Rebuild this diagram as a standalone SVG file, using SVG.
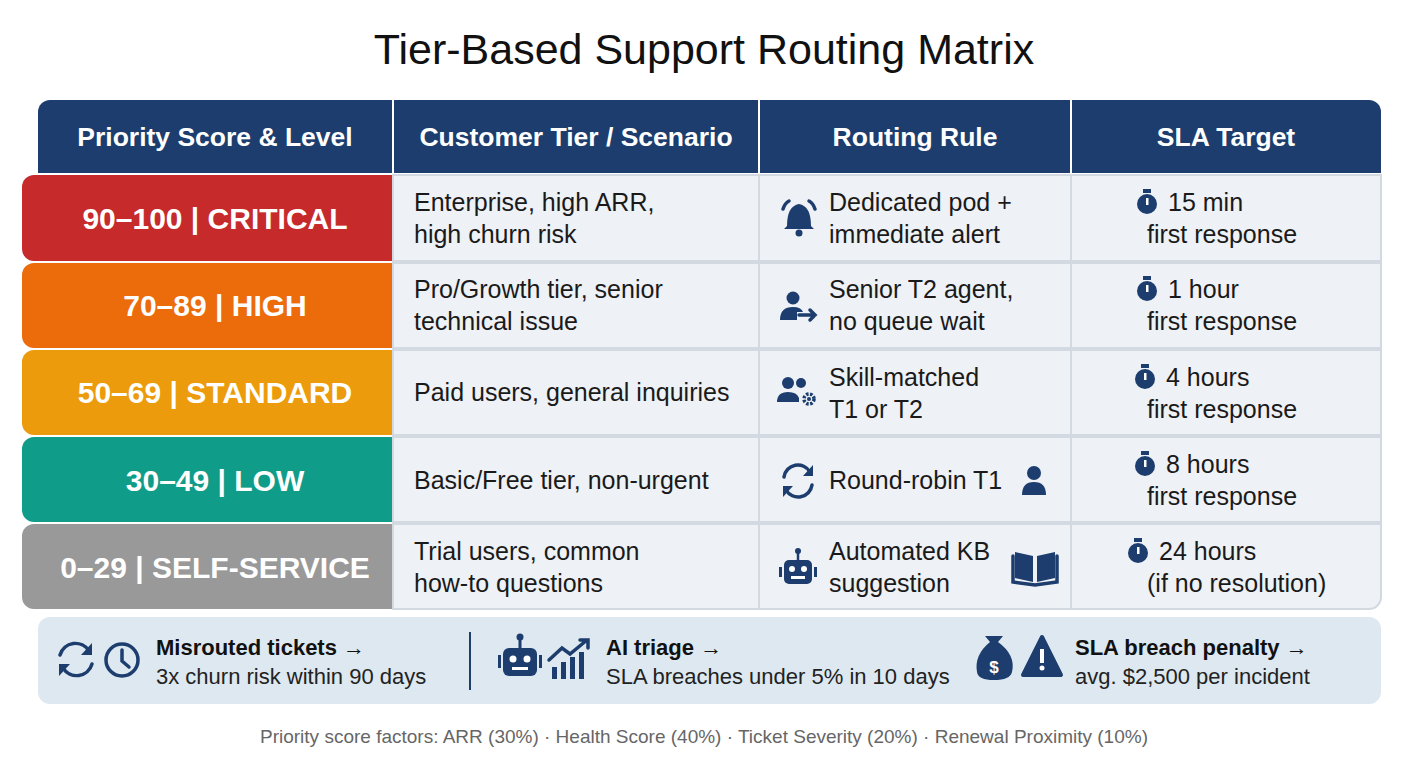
<svg xmlns="http://www.w3.org/2000/svg" width="1408" height="768" viewBox="0 0 1408 768">
<style>
text{font-family:"Liberation Sans","DejaVu Sans",sans-serif}
.h{font-size:26.5px;font-weight:bold;fill:#fff;text-anchor:middle}
.lv{font-size:30px;font-weight:bold;fill:#fff;text-anchor:middle}
.b{font-size:25px;fill:#1a1a1a}
.cell{fill:#eef1f5;stroke:#d3d9e0;stroke-width:2}
.ic{fill:#1c3d6e}
.ics{fill:none;stroke:#1c3d6e;stroke-width:3.5;stroke-linecap:round}
.fb{font-size:22px;font-weight:bold;fill:#111}
.fn{font-size:22px;fill:#222}
</style>
<rect width="1408" height="768" fill="#fff"/>
<text x="704" y="64" text-anchor="middle" style="font-size:43px;fill:#111">Tier-Based Support Routing Matrix</text>
<g id="header">
<path d="M50 100H1369A12 12 0 0 1 1381 112V173H38V112A12 12 0 0 1 50 100Z" fill="#1c3d6e"/>
<g stroke="#fff" stroke-width="2"><line x1="393" y1="100" x2="393" y2="173"/><line x1="759" y1="100" x2="759" y2="173"/><line x1="1071" y1="100" x2="1071" y2="173"/></g>
<text class="h" x="215" y="146">Priority Score &amp; Level</text>
<text class="h" x="576" y="146">Customer Tier / Scenario</text>
<text class="h" x="915" y="146">Routing Rule</text>
<text class="h" x="1226" y="146">SLA Target</text>
</g>
<path d="M393 174H1381V598A12 12 0 0 1 1369 610H393Z" fill="#eef1f5"/>
<g id="row1">
<path d="M34 175H393V261H34A12 12 0 0 1 22 249V187A12 12 0 0 1 34 175Z" fill="#c62a2a"/>
<text class="lv" x="215" y="229">90–100 | CRITICAL</text>
<rect class="cell" x="393" y="175" width="366" height="86"/><rect class="cell" x="759" y="175" width="312" height="86"/><rect class="cell" x="1071" y="175" width="310" height="86"/>
<text class="b" x="414" y="211">Enterprise, high ARR,</text><text class="b" x="414" y="243">high churn risk</text>
<path class="ic" d="M787 226Q787 206 799 204Q811 206 811 226L814 229H784Z"/><circle class="ic" cx="799" cy="233" r="3.5"/><path class="ics" d="M783 209Q785 203 789 201M815 209Q813 203 809 201" stroke-width="2.5"/>
<text class="b" x="829" y="211">Dedicated pod +</text><text class="b" x="829" y="243">immediate alert</text>
<circle class="ic" cx="1147" cy="204" r="10"/><rect class="ic" x="1143" y="189" width="8" height="4"/><rect x="1146" y="198" width="2.5" height="7" fill="#fff"/>
<text class="b" x="1168" y="211">15 min</text><text class="b" x="1147" y="243">first response</text>
</g>
<g id="row2">
<path d="M34 263H393V348H34A12 12 0 0 1 22 336V275A12 12 0 0 1 34 263Z" fill="#ec6b0b"/>
<text class="lv" x="215" y="316">70–89 | HIGH</text>
<rect class="cell" x="393" y="263" width="366" height="85"/><rect class="cell" x="759" y="263" width="312" height="85"/><rect class="cell" x="1071" y="263" width="310" height="85"/>
<text class="b" x="414" y="298">Pro/Growth tier, senior</text><text class="b" x="414" y="330">technical issue</text>
<circle class="ic" cx="793" cy="298" r="6.5"/><path class="ic" d="M780 320Q780 307 793 307Q801 307 803 312H797V320Z"/><path class="ics" d="M799 315H815M810 310L815 315L810 320" stroke-width="3"/>
<text class="b" x="829" y="298">Senior T2 agent,</text><text class="b" x="829" y="330">no queue wait</text>
<circle class="ic" cx="1147" cy="291" r="10"/><rect class="ic" x="1143" y="276" width="8" height="4"/><rect x="1146" y="285" width="2.5" height="7" fill="#fff"/>
<text class="b" x="1168" y="298">1 hour</text><text class="b" x="1147" y="330">first response</text>
</g>
<g id="row3">
<path d="M34 350H393V435H34A12 12 0 0 1 22 423V362A12 12 0 0 1 34 350Z" fill="#eb9b0b"/>
<text class="lv" x="215" y="403">50–69 | STANDARD</text>
<rect class="cell" x="393" y="350" width="366" height="85"/><rect class="cell" x="759" y="350" width="312" height="85"/><rect class="cell" x="1071" y="350" width="310" height="85"/>
<text class="b" x="414" y="401">Paid users, general inquiries</text>
<circle class="ic" cx="788" cy="383" r="6"/><circle class="ic" cx="801" cy="383" r="5"/><path class="ic" d="M777 402Q777 392 788 392Q797 392 799 398V402Z"/><circle cx="809" cy="399" r="5" fill="none" stroke="#1c3d6e" stroke-width="3.5" stroke-dasharray="2.5 1.5"/><circle class="ic" cx="809" cy="399" r="2"/>
<text class="b" x="829" y="386">Skill-matched</text><text class="b" x="829" y="418">T1 or T2</text>
<circle class="ic" cx="1145" cy="379" r="10"/><rect class="ic" x="1141" y="364" width="8" height="4"/><rect x="1144" y="373" width="2.5" height="7" fill="#fff"/>
<text class="b" x="1166" y="386">4 hours</text><text class="b" x="1147" y="418">first response</text>
</g>
<g id="row4">
<path d="M34 437H393V522H34A12 12 0 0 1 22 510V449A12 12 0 0 1 34 437Z" fill="#0f9d8a"/>
<text class="lv" x="215" y="491">30–49 | LOW</text>
<rect class="cell" x="393" y="437" width="366" height="85"/><rect class="cell" x="759" y="437" width="312" height="85"/><rect class="cell" x="1071" y="437" width="310" height="85"/>
<text class="b" x="414" y="489">Basic/Free tier, non-urgent</text>
<path class="ics" d="M784 477A14 14 0 0 1 810 472M812 485A14 14 0 0 1 786 490" stroke-width="3.5"/><path class="ic" d="M813 465V476H803Z"/><path class="ic" d="M783 497V486H793Z"/>
<text class="b" x="829" y="489">Round-robin T1</text>
<circle class="ic" cx="1034" cy="473" r="7"/><path class="ic" d="M1022 495Q1022 482 1034 482Q1046 482 1046 495Z"/>
<circle class="ic" cx="1145" cy="466" r="10"/><rect class="ic" x="1141" y="451" width="8" height="4"/><rect x="1144" y="460" width="2.5" height="7" fill="#fff"/>
<text class="b" x="1166" y="473">8 hours</text><text class="b" x="1147" y="505">first response</text>
</g>
<g id="row5">
<path d="M34 524H393V609H34A12 12 0 0 1 22 597V536A12 12 0 0 1 34 524Z" fill="#999"/>
<text class="lv" x="215" y="578">0–29 | SELF-SERVICE</text>
<rect class="cell" x="393" y="524" width="366" height="85"/><rect class="cell" x="759" y="524" width="312" height="85"/><path class="cell" d="M1071 524H1381V597A12 12 0 0 1 1369 609H1071Z"/>
<text class="b" x="414" y="560">Trial users, common</text><text class="b" x="414" y="592">how-to questions</text>
<rect class="ic" x="784" y="560" width="28" height="24" rx="5"/><line x1="798" y1="552" x2="798" y2="560" stroke="#1c3d6e" stroke-width="2.5"/><circle class="ic" cx="798" cy="551" r="3"/><rect class="ic" x="779" y="567" width="3" height="10"/><rect class="ic" x="814" y="567" width="3" height="10"/><circle cx="792" cy="569" r="3" fill="#fff"/><circle cx="804" cy="569" r="3" fill="#fff"/><rect x="791" y="576" width="14" height="3" fill="#fff"/>
<text class="b" x="829" y="560">Automated KB</text><text class="b" x="829" y="592">suggestion</text>
<path class="ic" d="M1015 552L1033 556V582L1015 578Z M1037 556L1055 552V578L1037 582Z"/><path class="ics" d="M1013 556V582L1035 585L1057 582V556" stroke-width="2.5"/>
<circle class="ic" cx="1138" cy="553" r="10"/><rect class="ic" x="1134" y="538" width="8" height="4"/><rect x="1137" y="547" width="2.5" height="7" fill="#fff"/>
<text class="b" x="1159" y="560">24 hours</text><text class="b" x="1147" y="592">(if no resolution)</text>
</g>
<g id="footer">
<rect x="38" y="617" width="1343" height="87" rx="12" fill="#dde8f0"/>
<path class="ics" d="M60 655A16 16 0 0 1 89 651M92 664A16 16 0 0 1 63 668" stroke-width="3.5"/><path class="ic" d="M92 643V655H81Z"/><path class="ic" d="M59 676V664H70Z"/>
<circle cx="122" cy="660" r="16" fill="none" stroke="#1c3d6e" stroke-width="3.5"/><path class="ics" d="M122 650V661L129 667" stroke-width="3"/>
<text class="fb" x="156" y="655">Misrouted tickets →</text><text class="fn" x="156" y="684">3x churn risk within 90 days</text>
<line x1="470" y1="632" x2="470" y2="690" stroke="#1c3d6e" stroke-width="2"/>
<rect class="ic" x="503" y="648" width="34" height="28" rx="6"/><line x1="520" y1="638" x2="520" y2="648" stroke="#1c3d6e" stroke-width="3"/><circle class="ic" cx="520" cy="637" r="3.5"/><rect class="ic" x="498" y="655" width="3" height="13"/><rect class="ic" x="539" y="655" width="3" height="13"/><circle cx="513" cy="659" r="3.5" fill="#fff"/><circle cx="527" cy="659" r="3.5" fill="#fff"/><rect x="512" y="667" width="16" height="3" fill="#fff"/>
<rect class="ic" x="552" y="667" width="5" height="12"/><rect class="ic" x="561" y="662" width="5" height="17"/><rect class="ic" x="570" y="657" width="5" height="22"/><rect class="ic" x="579" y="652" width="5" height="27"/>
<path class="ics" d="M549 660L562 648L570 654L587 640M580 640H588V648" stroke-width="3"/>
<text class="fb" x="606" y="655">AI triage →</text><text class="fn" x="606" y="684">SLA breaches under 5% in 10 days</text>
<path class="ic" d="M990 642L985 636H1003L998 642Q1016 655 1012 672Q1010 680 994 680Q978 680 977 672Q974 655 990 642Z"/>
<text x="994" y="673" text-anchor="middle" style="font-size:17px;font-weight:bold;fill:#fff">$</text>
<path class="ic" d="M1042 637L1061 675H1023Z" stroke="#1c3d6e" stroke-width="4" stroke-linejoin="round"/><rect x="1040" y="649" width="4" height="14" fill="#fff"/><circle cx="1042" cy="668" r="2.5" fill="#fff"/>
<text class="fb" x="1075" y="655">SLA breach penalty →</text><text class="fn" x="1075" y="684">avg. $2,500 per incident</text>
</g>
<text x="704" y="743" text-anchor="middle" style="font-size:19px;fill:#666">Priority score factors: ARR (30%) · Health Score (40%) · Ticket Severity (20%) · Renewal Proximity (10%)</text>
</svg>
